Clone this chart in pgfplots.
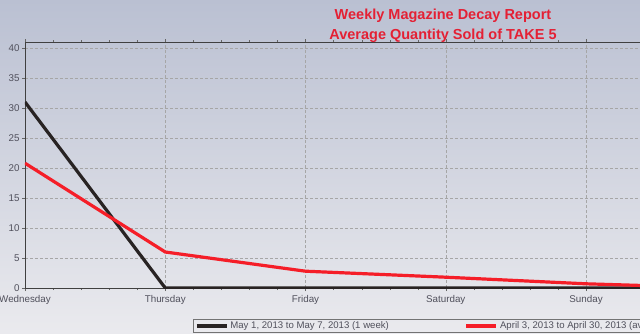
\documentclass[border=0pt]{standalone}
\usepackage{fontspec}
\setmainfont{Liberation Sans}
\usepackage{pgfplots}
\pgfplotsset{compat=1.18}
\definecolor{bgtop}{RGB}{186,192,210}
\definecolor{bgbot}{RGB}{234,234,238}
\definecolor{titlered}{RGB}{228,32,52}
\definecolor{serred}{RGB}{245,30,40}
\definecolor{serblack}{RGB}{40,35,35}
\definecolor{txtgray}{RGB}{80,80,92}
\begin{document}
\begin{tikzpicture}
\useasboundingbox (0,0) rectangle (640pt,333pt);
\shade[top color=bgtop, bottom color=bgbot] (0,0) rectangle (640pt,333pt);
\begin{axis}[
  at={(25pt,45pt)}, anchor=south west,
  scale only axis, width=625pt, height=246pt,
  xmin=0, xmax=4.456, ymin=0, ymax=41,
  xtick={0,1,2,3,4},
  xticklabels={Wednesday,Thursday,Friday,Saturday,Sunday},
  ytick={0,5,...,40},
  minor x tick num=4,
  grid=major,
  major grid style={densely dashed, gray!70},
  axis line style={draw=black!75, line width=0.8pt},
  tick style={black!60},
  tick align=outside,
  major tick length=3pt, minor tick length=2pt,
  ticklabel style={font=\fontsize{9.8}{11}\selectfont, text=txtgray},
  xticklabel style={yshift=-1pt},
  yticklabel style={xshift=1pt},
  /pgf/number format/assume math mode=true,
  clip mode=individual,
  legend columns=2,
  legend style={at={(0.2688,-0.126)}, anchor=north west, draw=black!55, fill=none,
    font=\fontsize{9.6}{10.5}\selectfont\color{txtgray}, inner ysep=0.5pt, inner xsep=2pt},
  /tikz/every even column/.append style={column sep=74pt},
  legend image code/.code={\draw[#1] (0pt,0pt) -- (30pt,0pt);},
]
\addplot[serblack, line width=3.2pt] coordinates {(0,31) (1,0) (2,0) (3,0) (4,0) (5,0)};
\addlegendentry{May 1, 2013 to May 7, 2013 (1 week)}
\addplot[serred, line width=3.2pt] coordinates {(0,20.8) (1,6) (2,2.8) (3,1.8) (4,0.7) (5,0)};
\addlegendentry{April 3, 2013 to April 30, 2013 (average)}
\end{axis}
\node[text=titlered, font=\bfseries\fontsize{14.5}{16}\selectfont] at (443pt,317pt) {Weekly Magazine Decay Report};
\node[text=titlered, font=\bfseries\fontsize{14.5}{16}\selectfont] at (443pt,297pt) {Average Quantity Sold of TAKE 5};
\end{tikzpicture}
\end{document}
